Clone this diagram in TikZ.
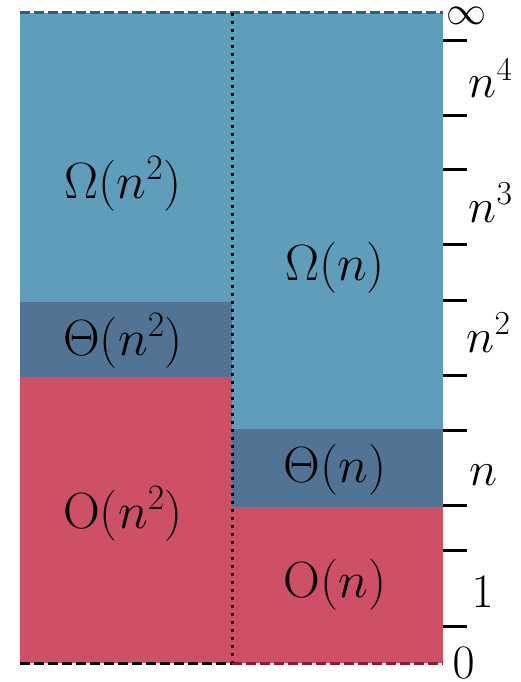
\RequirePackage{fix-cm}
\documentclass[tikz,border=0pt]{standalone}
\usepackage{amsmath}
\definecolor{omegablue}{RGB}{94,158,186}
\definecolor{thetablue}{RGB}{82,116,148}
\definecolor{bigored}{RGB}{205,80,102}
\definecolor{topline}{RGB}{40,98,128}
\definecolor{botline}{RGB}{140,26,48}

\begin{document}
\begin{tikzpicture}[x=1pt,y=-1pt,line width=3pt,
  cls/.style={font=\fontsize{51}{56}\selectfont},
  axl/.style={font=\fontsize{48}{52}\selectfont,anchor=base west,inner sep=0pt}]
  \useasboundingbox (0,0) rectangle (521,682);
  % left column: n^2
  \fill[omegablue] (20,13) rectangle (232,302);
  \fill[thetablue] (20,302) rectangle (232,377);
  \fill[bigored] (20,377) rectangle (232,663);
  % right column: n
  \fill[omegablue] (232,13) rectangle (443,429);
  \fill[thetablue] (232,429) rectangle (443,507);
  \fill[bigored] (232,507) rectangle (443,663);
  % borders
  \draw[topline,dash pattern=on 10pt off 4pt] (20,13) -- (443,13);
  \draw[black,dash pattern=on 10pt off 4pt] (20,663) -- (232,663);
  \draw[botline,dash pattern=on 10pt off 4pt] (232,663) -- (443,663);
  \draw[black,dash pattern=on 3pt off 5pt] (232,13) -- (232,663);
  % scale on the right
  \foreach \t in {41,116,169,244,300,375,430,505,550,626}
    \draw (443,\t) -- (467,\t);
  \node[cls] (om2) at (123,184) {$\Omega(n^2)$};
  \node[cls] (th2) at (123,341) {$\Theta(n^2)$};
  \node[cls] (bo2) at (123,514) {$\mathrm{O}(n^2)$};
  \node[cls] (om1) at (335,268) {$\Omega(n)$};
  \node[cls] (th1) at (335,470) {$\Theta(n)$};
  \node[cls] (bo1) at (335,585) {$\mathrm{O}(n)$};
  \node[font=\fontsize{40}{44}\selectfont,inner sep=0pt] (inf) at (466,16) {$\infty$};
  \node[axl] (n4) at (467,98) {$n^4$};
  \node[axl] (n3) at (467,222) {$n^3$};
  \node[axl] (n2) at (465,352) {$n^2$};
  \node[axl] (n1) at (468,485) {$n$};
  \node[axl] (one) at (470,607) {$1$};
  \node[axl] (zero) at (451,678) {$0$};
\end{tikzpicture}
\end{document}
